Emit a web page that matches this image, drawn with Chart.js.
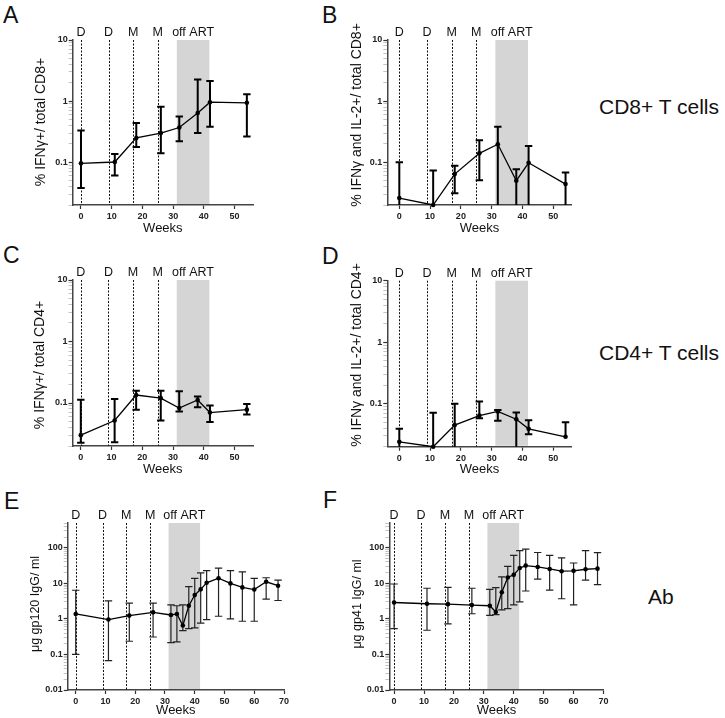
<!DOCTYPE html>
<html>
<head>
<meta charset="utf-8">
<script src="https://cdn.jsdelivr.net/npm/chart.js@4.4.0/dist/chart.umd.min.js"></script>
<style>
body { margin: 0; background: #fff; width: 725px; height: 718px; position: relative; overflow: hidden;
       font-family: 'Liberation Sans', Arial, Helvetica, sans-serif; color: #111; }
canvas { position: absolute; }
.lbl { position: absolute; line-height: 1; white-space: nowrap; }
</style>
</head>
<body>
<div class="lbl" style="left:3px;top:4px;font-size:23px">A</div>
<div class="lbl" style="left:322px;top:4px;font-size:23px">B</div>
<div class="lbl" style="left:3px;top:244px;font-size:23px">C</div>
<div class="lbl" style="left:322px;top:245px;font-size:23px">D</div>
<div class="lbl" style="left:4px;top:490px;font-size:23px">E</div>
<div class="lbl" style="left:323px;top:489px;font-size:23px">F</div>
<div class="lbl" style="left:599px;top:96px;font-size:21px">CD8+ T cells</div>
<div class="lbl" style="left:599px;top:342px;font-size:21px">CD4+ T cells</div>
<div class="lbl" style="left:648px;top:586px;font-size:21px">Ab</div>

<canvas id="cA"></canvas>
<canvas id="cB"></canvas>
<canvas id="cC"></canvas>
<canvas id="cD"></canvas>
<canvas id="cE"></canvas>
<canvas id="cF"></canvas>

<script>
// weeks of sampling
var weeksT = [0, 11, 18, 26, 32, 38, 42, 54];
var weeksAb = [0, 11, 18, 26, 32, 34, 36, 38, 40, 42, 44, 48, 52, 56, 60, 64, 68];
var xTicksT = [0, 10, 20, 30, 40, 50];
var xTicksAb = [0, 10, 20, 30, 40, 50, 60, 70];

// vaccinations and treatment interruption
var markerWeeks = [0, 9, 17, 25];
var markerLabels = ['D', 'D', 'M', 'M'];
var offArt = [31.2, 41.8];
var offArtLabel = 'off ART';

// A: IFNg+ CD8
var cd8Ifn = [0.096, 0.101, 0.25, 0.30, 0.37, 0.64, 0.96, 0.94];
var cd8IfnLo = [0.038, 0.061, 0.178, 0.14, 0.22, 0.30, 0.38, 0.265];
var cd8IfnHi = [0.33, 0.137, 0.44, 0.81, 0.56, 2.26, 2.14, 1.29];

// B: IFNg and IL-2+ CD8
var cd8Both = [0.026, 0.02, 0.064, 0.14, 0.197, 0.050, 0.098, 0.044];
var cd8BothLo = [0.02, 0.02, 0.031, 0.051, 0.02, 0.02, 0.02, 0.02];
var cd8BothHi = [0.1, 0.073, 0.088, 0.23, 0.38, 0.077, 0.185, 0.068];

// C: IFNg+ CD4
var cd4Ifn = [0.030, 0.052, 0.135, 0.12, 0.083, 0.112, 0.07, 0.078];
var cd4IfnLo = [0.0225, 0.023, 0.078, 0.052, 0.073, 0.085, 0.049, 0.065];
var cd4IfnHi = [0.113, 0.116, 0.158, 0.158, 0.155, 0.128, 0.091, 0.096];

// D: IFNg and IL-2+ CD4
var cd4Both = [0.024, 0.02, 0.045, 0.064, 0.075, 0.056, 0.039, 0.029];
var cd4BothLo = [0.02, 0.02, 0.02, 0.058, 0.053, 0.02, 0.032, 0.029];
var cd4BothHi = [0.039, 0.071, 0.1, 0.109, 0.079, 0.072, 0.054, 0.050];

// E: gp120 IgG
var gp120 = [1.38, 0.96, 1.24, 1.53, 1.29, 1.38, 0.65, 2.35, 4.7, 6.8, 10.4, 14, 10, 7.7, 6.7, 11.1, 8.6];
var gp120Lo = [0.1, 0.067, 0.235, 0.31, 0.215, 0.225, 0.47, 0.53, 0.56, 0.76, 0.96, 1.19, 1.0, 0.86, 0.86, 3.6, 3.3];
var gp120Hi = [6.4, 3.2, 2.8, 2.8, 2.5, 2.35, 2.5, 8.1, 13.8, 19.8, 23, 27, 23, 21, 13.8, 14.4, 12.4];

// F: gp41 IgG
var gp41 = [2.9, 2.67, 2.6, 2.45, 2.35, 1.56, 5.6, 14.7, 17.4, 27, 31.6, 29, 25.5, 22, 22.5, 25, 26];
var gp41Lo = [0.53, 0.48, 0.73, 1.4, 1.26, 1.32, 1.8, 1.94, 2.5, 3.0, 6.1, 13.2, 6.5, 3.7, 2.5, 12.4, 9.2];
var gp41Hi = [9.6, 7.3, 7.7, 7.3, 6.8, 7.6, 15.3, 30, 61, 84, 92, 74, 61, 52, 37.5, 83, 73];

var FONT = "'Liberation Sans', Arial, Helvetica, sans-serif";
Chart.defaults.font.family = FONT;
Chart.defaults.color = '#111';

function isDecade(v) {
    var e = Math.log10(v);
    return Math.abs(e - Math.round(e)) < 1e-9;
}
function logTicks(min, max) {
    var out = [];
    for (var e = Math.floor(Math.log10(min)); e <= Math.ceil(Math.log10(max)); e++) {
        for (var m = 1; m < 10; m++) {
            var v = m * Math.pow(10, e);
            if (v >= min * 0.999 && v <= max * 1.001) out.push(m === 1 ? Math.pow(10, e) : v);
        }
    }
    return out;
}

// box = canvas [left, top, width, height]; area = plot [left, right, top, bottom] in page px
var panels = [
    { id: 'cA', box: [0, 0, 300, 245], area: [72.7, 253, 40, 205], titleX: 41, titleY: 122, weeksY: 228,
      x: [-2.7, 56], xTicks: xTicksT, y: [0.02, 10], weeks: weeksT, val: cd8Ifn, lo: cd8IfnLo, hi: cd8IfnHi,
      yTitle: '% IFNγ+/ total CD8+', tsize: 14, bar: 2, barColor: '#000' },
    { id: 'cB', box: [290, 0, 310, 245], area: [387.3, 571.7, 40, 205], titleX: 357.5, titleY: 115, weeksY: 228,
      x: [-3.9, 56], xTicks: xTicksT, y: [0.02, 10], weeks: weeksT, val: cd8Both, lo: cd8BothLo, hi: cd8BothHi,
      yTitle: '% IFNγ and IL-2+/ total CD8+', tsize: 14, bar: 2, barColor: '#000' },
    { id: 'cC', box: [0, 240, 300, 245], area: [72.5, 253, 280, 446], titleX: 40, titleY: 365, weeksY: 469,
      x: [-2.7, 56], xTicks: xTicksT, y: [0.02, 10], weeks: weeksT, val: cd4Ifn, lo: cd4IfnLo, hi: cd4IfnHi,
      yTitle: '% IFNγ+/ total CD4+', tsize: 14, bar: 2, barColor: '#000' },
    { id: 'cD', box: [290, 240, 310, 245], area: [387.3, 571.7, 280.7, 446.7], titleX: 357, titleY: 355, weeksY: 469,
      x: [-3.9, 56], xTicks: xTicksT, y: [0.02, 10], weeks: weeksT, val: cd4Both, lo: cd4BothLo, hi: cd4BothHi,
      yTitle: '% IFNγ and IL-2+/ total CD4+', tsize: 14, bar: 2, barColor: '#000' },
    { id: 'cE', box: [0, 480, 300, 238], area: [67.7, 284, 523, 690], titleX: 35.5, titleY: 604, weeksY: 710.7,
      x: [-2.7, 70], xTicks: xTicksAb, y: [0.01, 500], weeks: weeksAb, val: gp120, lo: gp120Lo, hi: gp120Hi,
      yTitle: 'μg gp120 IgG/ ml', tsize: 12.5, bar: 1.2, barColor: '#222' },
    { id: 'cF', box: [290, 480, 330, 238], area: [389.3, 603.5, 523, 690], titleX: 357.5, titleY: 604, weeksY: 710.7,
      x: [-1.6, 70], xTicks: xTicksAb, y: [0.01, 500], weeks: weeksAb, val: gp41, lo: gp41Lo, hi: gp41Hi,
      yTitle: 'μg gp41 IgG/ ml', tsize: 12.5, bar: 1.2, barColor: '#222' }
];

function decor(p) {
    var L = p.box[0], T = p.box[1];
    return {
        id: 'decor',
        beforeDatasetsDraw: function (chart) {
            var ctx = chart.ctx, a = chart.chartArea, xs = chart.scales.x, ys = chart.scales.y;
            ctx.save();
            // off ART shading
            var x0 = xs.getPixelForValue(offArt[0]), x1 = xs.getPixelForValue(offArt[1]);
            ctx.fillStyle = '#d5d5d5';
            ctx.fillRect(x0, a.top, x1 - x0, a.bottom - a.top - 1);
            // vaccination lines
            ctx.strokeStyle = '#111';
            ctx.lineWidth = 1;
            ctx.setLineDash([2, 1.5]);
            markerWeeks.forEach(function (w) {
                var px = Math.round(xs.getPixelForValue(w)) + 0.5;
                ctx.beginPath();
                ctx.moveTo(px, a.top);
                ctx.lineTo(px, a.bottom);
                ctx.stroke();
            });
            ctx.setLineDash([]);
            // labels above plot
            ctx.fillStyle = '#111';
            ctx.font = '12.5px ' + FONT;
            ctx.textAlign = 'center';
            ctx.textBaseline = 'middle';
            markerWeeks.forEach(function (w, i) {
                ctx.fillText(markerLabels[i], xs.getPixelForValue(w), a.top - 7);
            });
            ctx.fillText(offArtLabel, (x0 + x1) / 2, a.top - 7);
            // error bars
            ctx.strokeStyle = p.barColor;
            ctx.lineWidth = p.bar;
            var cap = 3.7;
            p.weeks.forEach(function (w, i) {
                var px = xs.getPixelForValue(w);
                var yv = ys.getPixelForValue(p.val[i]);
                var yh = ys.getPixelForValue(p.hi[i]);
                var clipped = p.lo[i] <= ys.min * 1.001;
                var yl = ys.getPixelForValue(Math.max(p.lo[i], ys.min));
                ctx.beginPath();
                ctx.moveTo(px, yl);
                ctx.lineTo(px, yh);
                ctx.moveTo(px - cap, yh);
                ctx.lineTo(px + cap, yh);
                if (!clipped && Math.abs(yl - yv) > 0.5) {
                    ctx.moveTo(px - cap, yl);
                    ctx.lineTo(px + cap, yl);
                }
                ctx.stroke();
            });
            ctx.restore();
        },
        afterDraw: function (chart) {
            var ctx = chart.ctx;
            ctx.save();
            ctx.translate(p.titleX - L, p.titleY - T);
            ctx.rotate(-Math.PI / 2);
            ctx.fillStyle = '#111';
            ctx.font = p.tsize + 'px ' + FONT;
            ctx.textAlign = 'center';
            ctx.textBaseline = 'middle';
            ctx.fillText(p.yTitle, 0, 0);
            ctx.restore();
        }
    };
}

panels.forEach(function (p) {
    var cv = document.getElementById(p.id);
    var L = p.box[0], T = p.box[1], W = p.box[2], H = p.box[3];
    var a = p.area;
    cv.style.left = L + 'px';
    cv.style.top = T + 'px';
    cv.width = W;
    cv.height = H;
    var xTitleSize = 13;

    new Chart(cv, {
        type: 'scatter',
        data: {
            datasets: [{
                data: p.weeks.map(function (w, i) { return { x: w, y: p.val[i] }; }),
                showLine: true,
                borderColor: '#000',
                borderWidth: 1.3,
                pointRadius: 2.3,
                pointBackgroundColor: '#000',
                pointBorderWidth: 0,
                clip: false
            }]
        },
        options: {
            responsive: false,
            animation: false,
            devicePixelRatio: 1,
            layout: { padding: { left: 0, top: a[2] - T, right: L + W - a[1], bottom: 0 } },
            plugins: { legend: { display: false }, tooltip: { enabled: false } },
            scales: {
                x: {
                    type: 'linear',
                    min: p.x[0],
                    max: p.x[1],
                    afterBuildTicks: function (s) { s.ticks = p.xTicks.map(function (v) { return { value: v }; }); },
                    afterFit: function (s) { s.height = T + H - a[3]; },
                    grid: { display: true, drawOnChartArea: false, tickLength: 4, tickColor: '#333', tickWidth: 1.2 },
                    border: { color: '#444', width: 1.5 },
                    ticks: { font: { size: 9, weight: 'bold' }, padding: 2, color: '#222', maxRotation: 0, autoSkip: false },
                    title: { display: true, text: 'Weeks', font: { size: xTitleSize }, color: '#111',
                             padding: { top: 0, bottom: T + H - p.weeksY - xTitleSize * 0.6 } }
                },
                y: {
                    type: 'logarithmic',
                    min: p.y[0],
                    max: p.y[1],
                    afterBuildTicks: function (s) {
                        s.ticks = logTicks(p.y[0], p.y[1]).map(function (v) { return { value: v, major: isDecade(v) }; });
                    },
                    afterFit: function (s) { s.width = a[0] - L; },
                    grid: {
                        display: true, drawOnChartArea: false, tickLength: 4,
                        tickColor: function (c) { return c.tick && isDecade(c.tick.value) ? '#333' : '#aaa'; },
                        tickWidth: function (c) { return c.tick && isDecade(c.tick.value) ? 1.2 : 0.7; }
                    },
                    border: { color: '#444', width: 1.5 },
                    ticks: {
                        font: { size: 9, weight: 'bold' }, padding: 1, color: '#222', autoSkip: false,
                        callback: function (v) { return isDecade(v) ? String(+Number(v).toPrecision(6)) : ''; }
                    },
                    title: { display: false }
                }
            }
        },
        plugins: [decor(p)]
    });
});
</script>
</body>
</html>
